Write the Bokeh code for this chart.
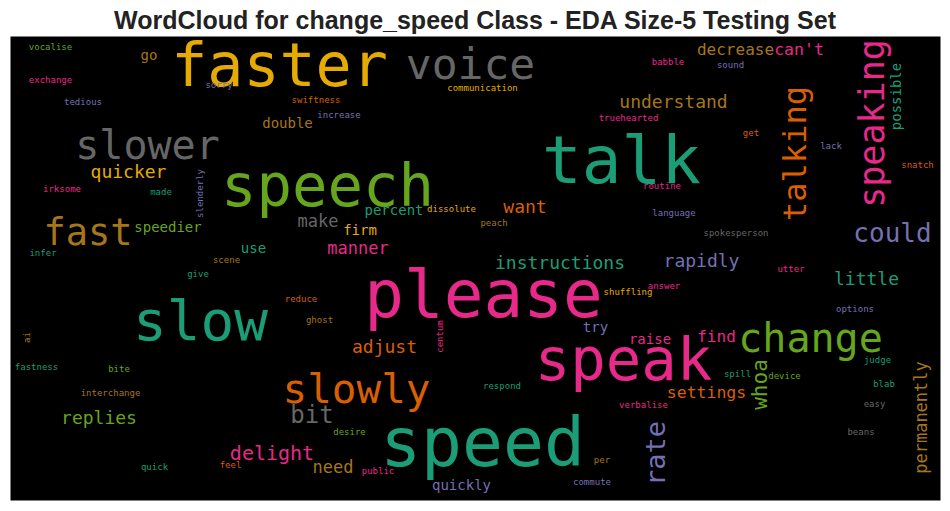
from bokeh.plotting import figure
from bokeh.models import ColumnDataSource, Range1d
from bokeh.core.properties import value, field
from bokeh.embed import file_html
from bokeh.resources import INLINE
import math

TITLE = "WordCloud for change_speed Class - EDA Size-5 Testing Set"

# word-cloud data: words and their relative weights (largest word = 1.0)
words = ["faster", "voice", "talk", "speech", "slower", "fast", "slow", "please", "speak", "speed",
         "change", "slowly", "talking", "speaking", "rate", "could", "quicker", "understand", "decrease", "can't",
         "possible", "speedier", "replies", "delight", "bit", "need", "adjust", "manner", "make", "firm",
         "percent", "dissolute", "use", "want", "instructions", "rapidly", "little", "settings", "whoa", "find",
         "raise", "try", "permanently", "quickly", "double", "go", "vocalise", "exchange", "tedious", "sorry",
         "irksome", "made", "slenderly", "infer", "scene", "give", "ai", "fastness", "bite", "interchange",
         "quick", "feel", "desire", "public", "respond", "verbalise", "per", "commute", "spill", "device",
         "judge", "blab", "easy", "beans", "options", "utter", "spokesperson", "language", "peach", "shuffling",
         "answer", "reduce", "ghost", "centum", "swiftness", "increase", "communication", "babble", "truehearted", "routine",
         "sound", "get", "lack", "snatch"]
weights = [0.882, 0.632, 0.971, 0.868, 0.588, 0.544, 0.824, 0.971, 0.868, 1.0,
           0.588, 0.603, 0.471, 0.515, 0.397, 0.382, 0.265, 0.265, 0.235, 0.243,
           0.206, 0.206, 0.265, 0.294, 0.353, 0.25, 0.265, 0.25, 0.25, 0.206,
           0.206, 0.132, 0.206, 0.265, 0.265, 0.265, 0.265, 0.243, 0.309, 0.235,
           0.206, 0.206, 0.25, 0.206, 0.206, 0.206, 0.132, 0.132, 0.132, 0.132,
           0.132, 0.132, 0.132, 0.132, 0.132, 0.132, 0.132, 0.132, 0.132, 0.132,
           0.132, 0.132, 0.132, 0.132, 0.132, 0.132, 0.132, 0.132, 0.132, 0.132,
           0.132, 0.132, 0.132, 0.132, 0.132, 0.132, 0.132, 0.132, 0.132, 0.132,
           0.132, 0.132, 0.132, 0.132, 0.132, 0.132, 0.132, 0.132, 0.132, 0.132,
           0.132, 0.132, 0.132, 0.132]

# layout of the cloud (image pixel coordinates of each word's baseline centre),
# orientation and colour index
word_x = [279, 470, 621, 327, 147, 87.5, 200, 483, 623, 482,
          810, 356, 806, 884, 665, 892, 128, 673, 735, 798.5,
          901, 167.5, 98.5, 271.5, 311.5, 332.5, 384, 357.5, 317.5, 359.5,
          393.5, 451, 253, 524.5, 559.5, 701, 866, 706, 767, 716,
          649.5, 595, 927, 461, 287, 148.5, 50, 50, 82.5, 218.5,
          61.5, 160.5, 203, 42.5, 226, 197.5, 30, 36, 118.5, 110,
          154, 230, 349, 377.5, 501.5, 643, 601.5, 591.5, 737, 784,
          877, 883.5, 874, 860.5, 854.5, 790.5, 735.5, 673.5, 493.5, 627.5,
          663.5, 300.5, 319, 443, 315.5, 338.5, 482, 667.5, 628, 661.5,
          730, 750.5, 830.5, 917]
word_y = [86, 79, 184, 206, 159, 245, 340, 318, 380, 466,
          352, 403, 153, 123, 453, 242, 177, 107, 55, 55,
          96, 232, 423, 460, 423, 473, 352, 254, 227, 235,
          215, 212, 253, 212, 268, 266, 284, 398, 384, 342,
          344, 332, 417, 490, 128, 60, 50, 83, 105, 88,
          192, 195, 193, 256, 263, 277, 337, 370, 372, 396,
          470, 468, 435, 474, 389, 408, 463, 485, 377, 379,
          363, 387, 407, 435, 312, 272, 236, 216, 226, 295,
          289, 302, 323, 336, 103, 118, 91, 65, 121, 189,
          68, 136, 149, 168]
vertical = [0, 0, 0, 0, 0, 0, 0, 0, 0, 0,
            0, 0, 1, 1, 1, 0, 0, 0, 0, 0,
            1, 0, 0, 0, 0, 0, 0, 0, 0, 0,
            0, 0, 0, 0, 0, 0, 0, 0, 1, 0,
            0, 0, 1, 0, 0, 0, 0, 0, 0, 0,
            0, 0, 1, 0, 0, 0, 1, 0, 0, 0,
            0, 0, 0, 0, 0, 0, 0, 0, 0, 0,
            0, 0, 0, 0, 0, 0, 0, 0, 0, 0,
            0, 0, 0, 1, 0, 0, 0, 0, 0, 0,
            0, 0, 0, 0]
# Dark2 palette index: 0 teal,1 orange,2 purple,3 pink,4 green,5 yellow,6 brown,7 gray
color_idx = [5, 7, 0, 4, 7, 6, 0, 3, 3, 0,
             4, 1, 1, 3, 2, 2, 5, 6, 6, 3,
             0, 4, 4, 3, 7, 6, 1, 3, 7, 5,
             0, 5, 0, 1, 0, 2, 0, 1, 4, 3,
             3, 2, 6, 2, 6, 6, 4, 3, 2, 2,
             3, 0, 2, 0, 6, 0, 6, 0, 4, 6,
             0, 1, 4, 3, 0, 3, 6, 2, 0, 4,
             0, 0, 7, 7, 2, 3, 7, 2, 6, 5,
             3, 1, 6, 3, 1, 2, 5, 3, 3, 3,
             2, 1, 2, 1]

DARK2 = ["#1b9e77", "#d95f02", "#7570b3", "#e7298a", "#66a61e", "#e6ab02", "#a6761d", "#666666"]
MAX_FONT = 68
SHIFT = 0.36   # renderer's baseline offset, as a fraction of the font size

sizes = [w * MAX_FONT for w in weights]
xs = [x - (SHIFT * s if v else 0.0) for x, s, v in zip(word_x, sizes, vertical)]
ys = [y - (0.0 if v else SHIFT * s) for y, s, v in zip(word_y, sizes, vertical)]

src = ColumnDataSource(dict(
    x=xs, y=ys, text=words,
    fs=["%.1fpx" % s for s in sizes],
    color=[DARK2[i] for i in color_idx],
    angle=[math.pi / 2 if v else 0.0 for v in vertical],
))

p = figure(width=942, height=503, x_range=Range1d(0, 942), y_range=Range1d(503, 0),
           output_backend="svg", toolbar_location=None,
           min_border_left=0, min_border_right=0, min_border_top=0, min_border_bottom=0)
p.axis.visible = False
p.grid.visible = False
p.outline_line_color = None
p.background_fill_color = "white"
p.border_fill_color = "white"

# black canvas of the cloud
p.quad(left=[10], right=[940], top=[36], bottom=[500], fill_color="black", line_color=None)

p.text(x="x", y="y", text="text", source=src, text_font=value("DejaVu Sans Mono"),
       text_font_size=field("fs"), text_color="color", angle="angle",
       text_align="center", text_baseline="alphabetic")

p.text(x=[475], y=[28 - SHIFT * 25], text=[TITLE], text_font=value("Liberation Sans"),
       text_font_size="25px", text_font_style="bold", text_color="#222222",
       text_align="center", text_baseline="alphabetic")

open("out.html", "w").write(file_html(p, INLINE))
